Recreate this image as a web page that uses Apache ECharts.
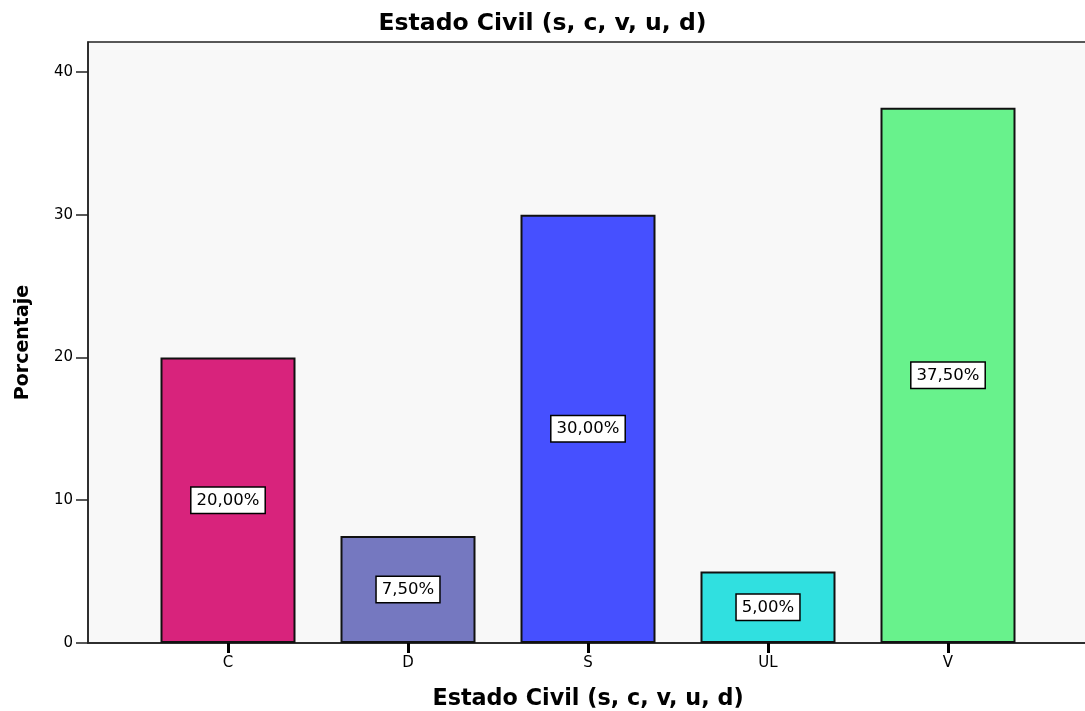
<!DOCTYPE html>
<html>
<head>
<meta charset="utf-8">
<script src="https://cdn.jsdelivr.net/npm/echarts@6/dist/echarts.min.js"></script>
<style>html,body{margin:0;padding:0;background:#fff}#c{width:1085px;height:711px}</style>
</head>
<body>
<div id="c"></div>
<script>
const categories = ['C', 'D', 'S', 'UL', 'V'];
const values = [20.0, 7.5, 30.0, 5.0, 37.5];
const colors = ['#D8237C', '#7578C0', '#4650FF', '#30E0E0', '#68F28C'];
const yTicks = [0, 10, 20, 30, 40];
const titleText = 'Estado Civil (s, c, v, u, d)';
const yName = 'Porcentaje';

const chart = echarts.init(document.getElementById('c'));
const font = 'DejaVu Sans, Verdana, sans-serif';
const bold = 'DejaVu Sans, Verdana, sans-serif';
const yMax = 42.1;
chart.setOption({
  animation: false,
  title: {
    text: titleText, left: 'center', top: 7,
    textStyle: { fontFamily: bold, fontSize: 23.5, fontWeight: 'bold', color: '#000' }
  },
  grid: [
    { left: 88, top: 42, width: 1000, height: 601, show: true, backgroundColor: '#F8F8F8', borderColor: '#222', borderWidth: 1.5, outerBoundsMode: 'none', containLabel: false },
    { left: 138, top: 42, width: 900, height: 601, outerBoundsMode: 'none', containLabel: false }
  ],
  xAxis: [
    { gridIndex: 0, type: 'value', min: 0, max: 1, axisLine: { show: true, onZero: false, lineStyle: { color: '#222', width: 1.5 } },
      axisTick: { show: false }, axisLabel: { show: false }, splitLine: { show: false },
      name: titleText, nameLocation: 'middle', nameGap: 45,
      nameTextStyle: { fontFamily: bold, fontSize: 22.3, fontWeight: 'bold', color: '#000' } },
    { gridIndex: 1, type: 'category', data: categories, axisLine: { show: false },
      axisTick: { show: true, alignWithLabel: true, length: 10, lineStyle: { color: '#000', width: 3 } },
      axisLabel: { fontFamily: font, fontSize: 15, color: '#000', margin: 13 } }
  ],
  yAxis: [
    { gridIndex: 0, type: 'value', min: 0, max: yMax, interval: 10,
      axisLine: { show: true, lineStyle: { color: '#222', width: 1.5 } },
      axisTick: { show: true, length: 12, lineStyle: { color: '#222', width: 1.5 }, customValues: yTicks },
      axisLabel: { fontFamily: font, fontSize: 15, color: '#000', margin: 15, customValues: yTicks },
      splitLine: { show: false },
      name: yName, nameLocation: 'middle', nameGap: 55, nameRotate: 90,
      nameTextStyle: { fontFamily: bold, fontSize: 19, fontWeight: 'bold', color: '#000' } },
    { gridIndex: 1, type: 'value', min: 0, max: yMax, show: false }
  ],
  series: [{
    type: 'bar', xAxisIndex: 1, yAxisIndex: 1, barWidth: 135,
    data: values.map((v, i) => ({ value: v, itemStyle: { color: colors[i], borderColor: '#111', borderWidth: 2 } })),
    label: {
      show: true, position: 'inside',
      formatter: p => p.value.toFixed(2).replace('.', ',') + '%',
      fontFamily: font, fontSize: 16.5, color: '#000', lineHeight: 18,
      backgroundColor: '#fff', borderColor: '#000', borderWidth: 1.5, padding: [4, 5, 3, 5]
    }
  }]
});
</script>
</body>
</html>
